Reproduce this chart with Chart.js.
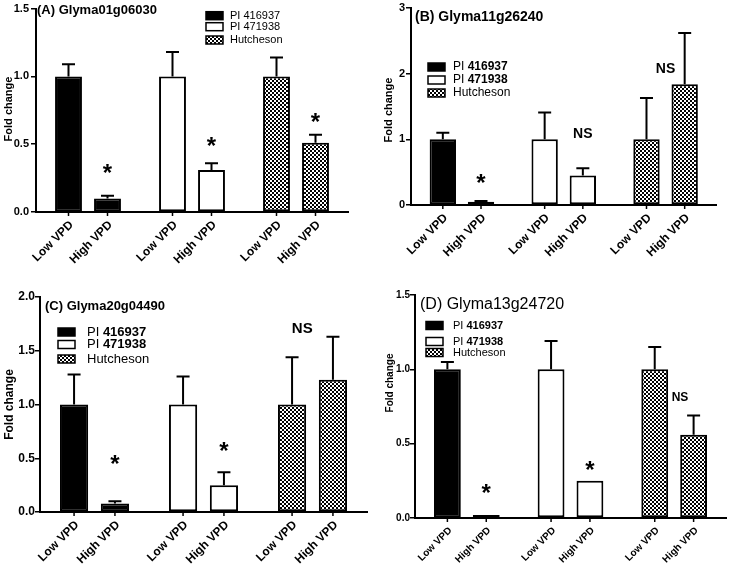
<!DOCTYPE html>
<html lang="en">
<head>
<meta charset="UTF-8">
<title>Fold change under low and high VPD</title>
<script src="https://cdn.jsdelivr.net/npm/chart.js@4.4.0/dist/chart.umd.min.js"></script>
<style>
  body { margin: 0; background: #fff; }
  #wrap { position: relative; width: 732px; height: 566px; overflow: hidden; background: #fff; }
  .panel { position: absolute; }
</style>
</head>
<body>
<div id="wrap">
  <div class="panel" style="left:0;top:0"><canvas id="chartA" width="366" height="283"></canvas></div>
  <div class="panel" style="left:366px;top:0"><canvas id="chartB" width="366" height="283"></canvas></div>
  <div class="panel" style="left:0;top:283px"><canvas id="chartC" width="372" height="283"></canvas></div>
  <div class="panel" style="left:366px;top:283px"><canvas id="chartD" width="366" height="283"></canvas></div>
</div>
<script>
const genotypes = ['PI 416937', 'PI 471938', 'Hutcheson'];
const vpdLabels = ['Low VPD', 'High VPD'];

// (A) Glyma01g06030
const lowA = [1.0, 1.0, 1.0];
const highA = [0.10, 0.31, 0.51];
const lowErrA = [0.09, 0.18, 0.14];
const highErrA = [0.02, 0.05, 0.06];
const yTicksA = [0, 0.5, 1.0, 1.5];
const marksA = ['*', '*', '*'];
const markBarsA = [1, 3, 5];
const markAtA = [0.32, 0.52, 0.70];

// (B) Glyma11g26240
const lowB = [1.0, 1.0, 1.0];
const highB = [0.05, 0.45, 1.84];
const lowErrB = [0.10, 0.41, 0.63];
const highErrB = [0.01, 0.11, 0.78];
const yTicksB = [0, 1, 2, 3];
const marksB = ['*', 'NS', 'NS'];
const markBarsB = [1, 3, 4.5];
const markAtB = [0.41, 1.09, 2.08];

// (C) Glyma20g04490
const lowC = [1.0, 1.0, 1.0];
const highC = [0.08, 0.25, 1.23];
const lowErrC = [0.28, 0.26, 0.44];
const highErrC = [0.02, 0.12, 0.40];
const yTicksC = [0, 0.5, 1.0, 1.5, 2.0];
const marksC = ['*', '*', 'NS'];
const markBarsC = [1, 3, 4.25];
const markAtC = [0.49, 0.61, 1.71];

// (D) Glyma13g24720
const lowD = [1.0, 1.0, 1.0];
const highD = [0.02, 0.25, 0.56];
const lowErrD = [0.05, 0.19, 0.15];
const highErrD = [0, 0, 0.13];
const yTicksD = [0, 0.5, 1.0, 1.5];
const marksD = ['*', '*', 'NS'];
const markBarsD = [1, 3, 4.65];
const markAtD = [0.20, 0.35, 0.82];

const FONT = '"Liberation Sans", Arial, sans-serif';
Chart.defaults.font.family = FONT;
Chart.defaults.color = '#000';

// small black/white checkerboard used for Hutcheson
function checker() {
    const c = document.createElement('canvas');
    c.width = 4; c.height = 4;
    const g = c.getContext('2d');
    g.fillStyle = '#fff'; g.fillRect(0, 0, 4, 4);
    g.fillStyle = '#000'; g.fillRect(0, 0, 2, 2); g.fillRect(2, 2, 2, 2);
    return g.createPattern(c, 'repeat');
}

const panels = [
    { id: 'chartA', title: '(A) Glyma01g06030', titleFont: 'bold 13px', titleX: 37, titleY: 10,
      low: lowA, high: highA, lowErr: lowErrA, highErr: highErrA, ticks: yTicksA, dec: 1,
      marks: marksA, markBars: markBarsA, markAt: markAtA, nsFont: 'bold 14px',
      pad: { top: 6, right: 18 }, yWidth: 36, xHeight: 71, font: 11, xFont: 12, tickPad: 2, yTitle: [9, 109],
      legend: { x: 206, tx: 230, rows: [15.7, 26.7, 40], size: 11, boldNum: false } },
    { id: 'chartB', title: '(B) Glyma11g26240', titleFont: 'bold 14px', titleX: 49, titleY: 17,
      low: lowB, high: highB, lowErr: lowErrB, highErr: highErrB, ticks: yTicksB, dec: 0,
      marks: marksB, markBars: markBarsB, markAt: markAtB, nsFont: 'bold 14px',
      pad: { top: 8, right: 15.5 }, yWidth: 45, xHeight: 78, font: 11, xFont: 12, tickPad: 1, yTitle: [23, 110],
      legend: { x: 62, tx: 87, rows: [67, 80, 93], size: 12, boldNum: true } },
    { id: 'chartC', title: '(C) Glyma20g04490', titleFont: 'bold 13px', titleX: 45, titleY: 23,
      low: lowC, high: highC, lowErr: lowErrC, highErr: highErrC, ticks: yTicksC, dec: 1,
      marks: marksC, markBars: markBarsC, markAt: markAtC, nsFont: 'bold 15px',
      pad: { top: 14, right: 5 }, yWidth: 40, xHeight: 54, font: 12, xFont: 12, tickPad: 0, yTitle: [9.5, 121.5],
      legend: { x: 58, tx: 87, rows: [49, 61.5, 76], size: 13, boldNum: true } },
    { id: 'chartD', title: '(D) Glyma13g24720', titleFont: '16px', titleX: 54, titleY: 22,
      low: lowD, high: highD, lowErr: lowErrD, highErr: highErrD, ticks: yTicksD, dec: 1,
      marks: marksD, markBars: markBarsD, markAt: markAtD, nsFont: 'bold 12px',
      pad: { top: 12, right: 6 }, yWidth: 49, xHeight: 48, font: 10, xFont: 10, tickPad: 0, yTitle: [24, 100],
      legend: { x: 60, tx: 87, rows: [42.5, 58.5, 69.5], size: 11, boldNum: true } }
];

function drawCentered(ctx, text, x, y) {
    const m = ctx.measureText(text);
    ctx.textBaseline = 'alphabetic';
    ctx.fillText(text, x, y + (m.actualBoundingBoxAscent - m.actualBoundingBoxDescent) / 2);
}

// error bars, significance marks, x labels, titles and legend for one panel
function makeDecor(p, fills) {
    return {
        id: 'decor',
        afterDraw(chart) {
            const ctx = chart.ctx, ys = chart.scales.y, area = chart.chartArea;
            const centers = [];
            for (let g = 0; g < genotypes.length; g++) {
                for (let d = 0; d < 2; d++) centers.push(chart.getDatasetMeta(d).data[g].x);
            }
            ctx.save();
            ctx.fillStyle = '#000';
            ctx.strokeStyle = '#000';

            // error bars (upper half only)
            ctx.lineWidth = 2;
            [p.low, p.high].forEach((vals, d) => {
                const errs = d ? p.highErr : p.lowErr;
                vals.forEach((v, g) => {
                    if (!errs[g]) return;
                    const x = centers[2 * g + d];
                    const y0 = ys.getPixelForValue(v), y1 = ys.getPixelForValue(v + errs[g]);
                    ctx.beginPath();
                    ctx.moveTo(x, y0); ctx.lineTo(x, y1);
                    ctx.moveTo(x - 6.5, y1); ctx.lineTo(x + 6.5, y1);
                    ctx.stroke();
                });
            });

            // significance marks
            ctx.textAlign = 'center';
            p.marks.forEach((t, k) => {
                const b = p.markBars[k];
                const i0 = Math.floor(b), i1 = Math.ceil(b);
                const x = centers[i0] + (b - i0) * (centers[i1] - centers[i0]);
                ctx.font = (t === '*' ? 'bold 24px ' : p.nsFont + ' ') + FONT;
                drawCentered(ctx, t, x, ys.getPixelForValue(p.markAt[k]));
            });

            // x ticks and rotated labels
            ctx.lineWidth = 1.5;
            ctx.font = 'bold ' + p.xFont + 'px ' + FONT;
            ctx.textAlign = 'right';
            ctx.textBaseline = 'middle';
            centers.forEach((x, i) => {
                ctx.beginPath();
                ctx.moveTo(x, area.bottom); ctx.lineTo(x, area.bottom + 4);
                ctx.stroke();
                ctx.save();
                ctx.translate(x + 3, area.bottom + 11);
                ctx.rotate(-Math.PI / 4);
                ctx.fillText(vpdLabels[i % 2], 0, 0);
                ctx.restore();
            });

            // y axis title
            ctx.save();
            ctx.font = 'bold ' + p.font + 'px ' + FONT;
            ctx.textAlign = 'center';
            ctx.textBaseline = 'middle';
            ctx.translate(p.yTitle[0], p.yTitle[1]);
            ctx.rotate(-Math.PI / 2);
            ctx.fillText('Fold change', 0, 0);
            ctx.restore();

            // panel title
            ctx.textAlign = 'left';
            ctx.textBaseline = 'middle';
            ctx.font = p.titleFont + ' ' + FONT;
            ctx.fillText(p.title, p.titleX, p.titleY);

            // legend
            const lg = p.legend;
            genotypes.forEach((name, k) => {
                const y = lg.rows[k];
                ctx.fillStyle = fills[k];
                ctx.fillRect(lg.x, y - 4, 17, 8);
                ctx.lineWidth = 1.5;
                ctx.strokeRect(lg.x, y - 4, 17, 8);
                ctx.fillStyle = '#000';
                const m = name.match(/^(PI )(\d+)$/);
                if (m && lg.boldNum) {
                    ctx.font = lg.size + 'px ' + FONT;
                    ctx.fillText(m[1], lg.tx, y);
                    const w = ctx.measureText(m[1]).width;
                    ctx.font = 'bold ' + lg.size + 'px ' + FONT;
                    ctx.fillText(m[2], lg.tx + w, y);
                } else {
                    ctx.font = lg.size + 'px ' + FONT;
                    ctx.fillText(name, lg.tx, y);
                }
            });
            ctx.restore();
        }
    };
}

panels.forEach(p => {
    const canvas = document.getElementById(p.id);
    const fills = ['#000', '#fff', checker()];
    new Chart(canvas, {
        type: 'bar',
        data: {
            labels: genotypes,
            datasets: [
                { label: vpdLabels[0], data: p.low, backgroundColor: fills, borderColor: '#000', borderWidth: 2, borderSkipped: false },
                { label: vpdLabels[1], data: p.high, backgroundColor: fills, borderColor: '#000', borderWidth: 2, borderSkipped: false }
            ]
        },
        options: {
            responsive: false,
            animation: false,
            devicePixelRatio: 1,
            events: [],
            categoryPercentage: 0.75,
            barPercentage: 0.69,
            layout: { padding: { top: p.pad.top, right: p.pad.right, left: 0, bottom: 0 } },
            plugins: { legend: { display: false }, tooltip: { enabled: false } },
            scales: {
                x: {
                    grid: { display: false },
                    border: { display: true, color: '#000', width: 2 },
                    ticks: { display: false },
                    afterFit: s => { s.height = p.xHeight; }
                },
                y: {
                    min: p.ticks[0],
                    max: p.ticks[p.ticks.length - 1],
                    afterBuildTicks: s => { s.ticks = p.ticks.map(v => ({ value: v })); },
                    afterFit: s => { s.width = p.yWidth; },
                    grid: { drawOnChartArea: false, drawTicks: true, tickLength: 5, color: '#000', lineWidth: 1.5 },
                    border: { display: true, color: '#000', width: 2 },
                    ticks: {
                        padding: p.tickPad,
                        color: '#000',
                        font: { size: p.font, weight: 'bold' },
                        callback: v => Number(v).toFixed(p.dec)
                    },
                    title: { display: false }
                }
            }
        },
        plugins: [makeDecor(p, fills)]
    });
});
</script>
</body>
</html>
